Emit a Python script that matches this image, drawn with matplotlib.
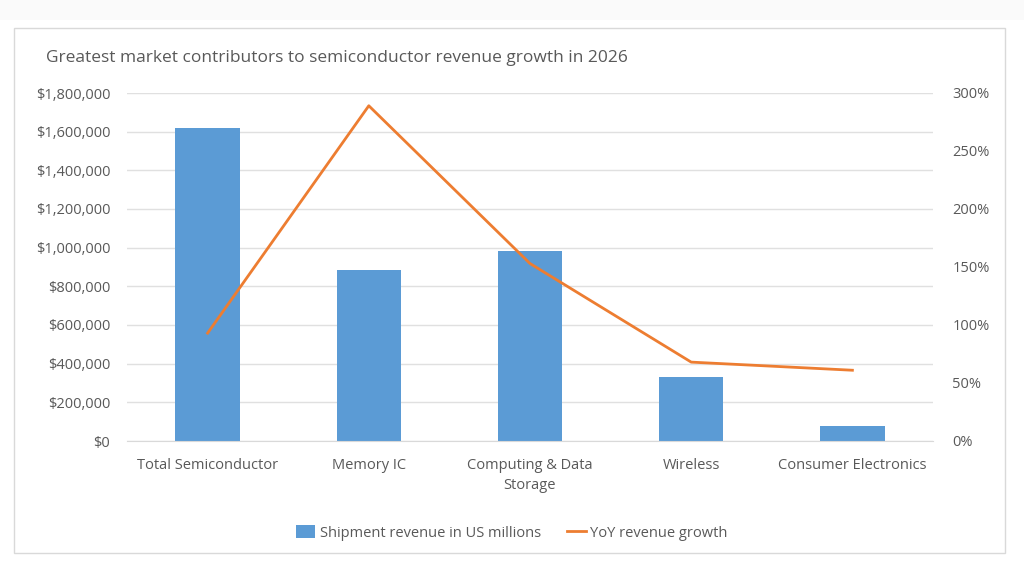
import matplotlib
matplotlib.use('Agg')
import matplotlib.pyplot as plt
from matplotlib.patches import Rectangle
from matplotlib.lines import Line2D
from matplotlib.ticker import FuncFormatter, MultipleLocator

categories = ['Total Semiconductor', 'Memory IC', 'Computing & Data\nStorage', 'Wireless', 'Consumer Electronics']
revenue = [1620000, 884000, 983000, 331000, 78000]
growth = [93, 289, 153, 68, 61]

plt.rcParams['font.family'] = ['Open Sans', 'DejaVu Sans']
grey = '#595959'
blue = '#5B9BD5'
orange = '#ED7D31'

fig = plt.figure(figsize=(10.24, 5.76), dpi=100)
fig.patch.set_facecolor('white')
# faint band at the top and the chart frame
fig.patches.append(Rectangle((0, 1 - 20/576), 1, 20/576, transform=fig.transFigure,
                             facecolor='#fafafa', edgecolor='none', zorder=-1))
fig.patches.append(Rectangle((14/1024, 1 - 553/576), 991/1024, 525/576, transform=fig.transFigure,
                             facecolor='none', edgecolor='#d9d9d9', linewidth=1, zorder=-1))

ax = fig.add_axes([127/1024, 1 - 441/576, 806/1024, 348/576])
ax.set_facecolor('none')
x = list(range(len(categories)))
ax.bar(x, revenue, width=0.4, color=blue, zorder=2)
ax.set_xlim(-0.5, len(categories) - 0.5)
ax.set_ylim(0, 1800000)
ax.yaxis.set_major_locator(MultipleLocator(200000))
ax.yaxis.set_major_formatter(FuncFormatter(lambda v, p: '${:,.0f}'.format(v)))
ax.grid(axis='y', color='#e0e0e0', linewidth=1, zorder=0)
ax.set_axisbelow(True)
for s in ax.spines.values():
    s.set_visible(False)
ax.spines['bottom'].set_visible(True)
ax.spines['bottom'].set_color('#d9d9d9')
ax.tick_params(length=0, colors=grey, labelsize=10.5)
ax.tick_params(axis='x', pad=12)
ax.tick_params(axis='y', pad=12)
ax.set_xticks(x)
ax.set_xticklabels(categories, va='top', linespacing=1.5)

ax2 = ax.twinx()
ax2.plot(x, growth, color=orange, linewidth=2, zorder=3)
ax2.set_ylim(0, 300)
ax2.yaxis.set_major_locator(MultipleLocator(50))
ax2.yaxis.set_major_formatter(FuncFormatter(lambda v, p: '{:.0f}%'.format(v)))
for s in ax2.spines.values():
    s.set_visible(False)
ax2.tick_params(length=0, colors=grey, labelsize=10.5, pad=14)

fig.text(46/1024, 1 - 58/576, 'Greatest market contributors to semiconductor revenue growth in 2026',
         fontsize=12.5, color=grey, va='center', ha='left')

handles = [Rectangle((0, 0), 1, 1, facecolor=blue),
           Line2D([0], [0], color=orange, linewidth=2)]
fig.legend(handles, ['Shipment revenue in US millions', 'YoY revenue growth'],
           loc='center', bbox_to_anchor=(512/1024, 1 - 533/576), ncol=2, frameon=False,
           fontsize=10.5, labelcolor=grey, handlelength=1.3, handleheight=0.9,
           columnspacing=1.8, handletextpad=0.3)

fig.savefig('out.png', dpi=100)
